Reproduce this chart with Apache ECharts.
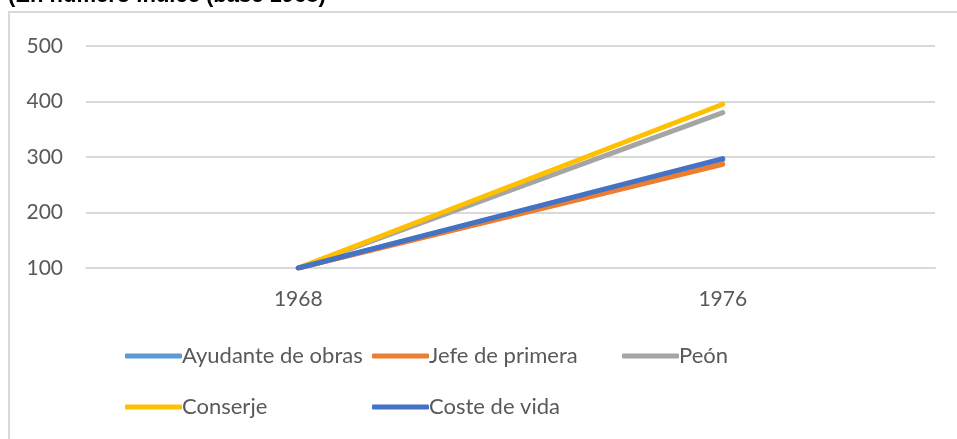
<!DOCTYPE html>
<html>
<head>
<meta charset="utf-8">
<script src="https://cdn.jsdelivr.net/npm/echarts@6/dist/echarts.min.js"></script>
<style>
html,body{margin:0;padding:0;background:#fff;}
#c{width:957px;height:439px;}
</style>
</head>
<body>
<div id="c"></div>
<script>
const categories = ['1968', '1976'];
const seriesNames = ['Ayudante de obras', 'Jefe de primera', 'Peón', 'Conserje', 'Coste de vida'];
const ayudante = [100, 295];
const jefe = [100, 287];
const peon = [100, 380];
const conserje = [100, 395];
const costeVida = [100, 297];
const yTicks = [100, 200, 300, 400, 500];
const colors = ['#5B9BD5', '#ED7D31', '#A5A5A5', '#FFC000', '#4472C4'];
const titleText = '(En número índice (base 1968)';

const values = [ayudante, jefe, peon, conserje, costeVida];
const legendPos = [[125, 345], [372, 345], [622, 345], [125, 396], [372, 396]];
const font = 'Lato, "Open Sans", sans-serif';

const chart = echarts.init(document.getElementById('c'), null, {renderer: 'canvas'});
chart.setOption({
  animation: false,
  backgroundColor: '#fff',
  title: {
    text: titleText,
    left: 8, top: -15,
    padding: 0,
    textStyle: {fontFamily: 'Liberation Sans, Arial, sans-serif', fontSize: 22, fontWeight: 'bold', color: '#000'}
  },
  graphic: [{
    type: 'rect', shape: {x: 9, y: 12, width: 960, height: 440},
    style: {fill: 'none', stroke: '#d9d9d9', lineWidth: 2}, silent: true, z: -1
  }],
  grid: {left: 86, right: 22, top: 46, bottom: 171, containLabel: false},
  xAxis: {
    type: 'category', data: categories, boundaryGap: true,
    axisLine: {lineStyle: {color: '#d9d9d9', width: 2}},
    axisTick: {show: false},
    axisLabel: {color: '#595959', fontFamily: font, fontSize: 21, margin: 21}
  },
  yAxis: {
    type: 'value', min: yTicks[0], max: yTicks[yTicks.length - 1], interval: 100,
    axisLine: {show: false}, axisTick: {show: false},
    splitLine: {lineStyle: {color: '#d9d9d9', width: 2}},
    axisLabel: {color: '#595959', fontFamily: font, fontSize: 21, margin: 23}
  },
  legend: seriesNames.map((n, i) => ({
    data: [n],
    left: legendPos[i][0], top: legendPos[i][1],
    padding: 0,
    icon: 'roundRect', itemWidth: 57, itemHeight: 5, itemGap: 0,
    textStyle: {color: '#595959', fontFamily: font, fontSize: 22, padding: [0, 0, 0, -5]},
    selectedMode: false
  })),
  series: seriesNames.map((n, i) => ({
    name: n, type: 'line', data: values[i],
    symbol: 'none', color: colors[i],
    lineStyle: {width: 5, color: colors[i], cap: 'round'},
    itemStyle: {color: colors[i]}
  }))
});
</script>
</body>
</html>
